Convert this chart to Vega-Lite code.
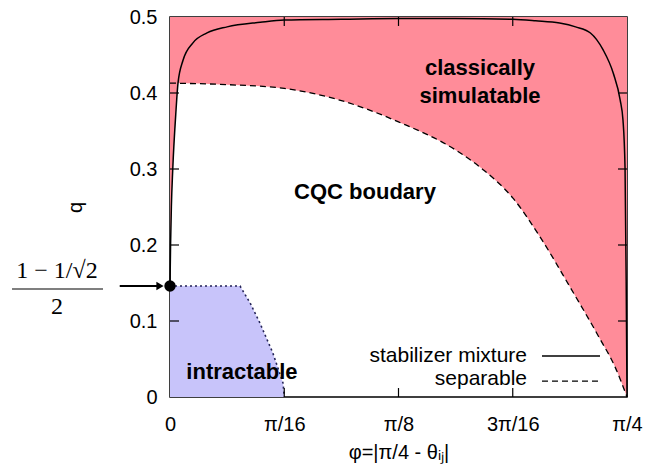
{
  "$schema": "https://vega.github.io/schema/vega-lite/v6.json",
  "width": 457,
  "height": 380,
  "autosize": {"type": "none"},
  "padding": {"left": 170, "top": 17, "right": 26, "bottom": 67},
  "config": {
    "view": {"stroke": "#000000", "strokeWidth": 1.5},
    "font": "Liberation Sans",
    "axis": {"labelFont": "Liberation Sans", "titleFont": "Liberation Sans", "labelFontSize": 20, "titleFontSize": 20, "labelColor": "#000000", "titleColor": "#000000", "titleFontWeight": "normal", "domain": false, "grid": false, "ticks": false}
  },
  "datasets": {
    "solid": [
      {"phi": 0, "q": 0.146}, {"phi": 0.00098, "q": 0.2}, {"phi": 0.00236, "q": 0.25}, {"phi": 0.00471, "q": 0.299},
      {"phi": 0.01041, "q": 0.378}, {"phi": 0.01374, "q": 0.413}, {"phi": 0.02238, "q": 0.443}, {"phi": 0.03947, "q": 0.466},
      {"phi": 0.06362, "q": 0.479}, {"phi": 0.09817, "q": 0.487}, {"phi": 0.15512, "q": 0.493}, {"phi": 0.19635, "q": 0.496},
      {"phi": 0.29452, "q": 0.497}, {"phi": 0.3927, "q": 0.498}, {"phi": 0.49087, "q": 0.498}, {"phi": 0.58905, "q": 0.497},
      {"phi": 0.62832, "q": 0.495}, {"phi": 0.66955, "q": 0.492}, {"phi": 0.69704, "q": 0.487}, {"phi": 0.72257, "q": 0.479},
      {"phi": 0.74417, "q": 0.457}, {"phi": 0.76184, "q": 0.426}, {"phi": 0.77362, "q": 0.391}, {"phi": 0.77853, "q": 0.364},
      {"phi": 0.78206, "q": 0.30}, {"phi": 0.78403, "q": 0.15}, {"phi": 0.7854, "q": 0}
    ],
    "sliver": [
      {"phi": 0, "q": 0.146}, {"phi": 0.00098, "q": 0.2}, {"phi": 0.00236, "q": 0.25}, {"phi": 0.00471, "q": 0.299},
      {"phi": 0.01041, "q": 0.378}, {"phi": 0.01374, "q": 0.413}
    ],
    "separable": [
      {"phi": 0, "q": 0.413}, {"phi": 0.09817, "q": 0.411}, {"phi": 0.19635, "q": 0.406}, {"phi": 0.29452, "q": 0.390},
      {"phi": 0.3927, "q": 0.362}, {"phi": 0.49087, "q": 0.325}, {"phi": 0.53996, "q": 0.298}, {"phi": 0.58905, "q": 0.262},
      {"phi": 0.63814, "q": 0.208}, {"phi": 0.68722, "q": 0.145}, {"phi": 0.73631, "q": 0.080}, {"phi": 0.76577, "q": 0.038},
      {"phi": 0.7854, "q": 0}
    ],
    "intractable": [
      {"phi": 0, "q": 0.146}, {"phi": 0.12036, "q": 0.146}, {"phi": 0.13745, "q": 0.124}, {"phi": 0.15472, "q": 0.097},
      {"phi": 0.17672, "q": 0.058}, {"phi": 0.19439, "q": 0.018}, {"phi": 0.19635, "q": 0}
    ],
    "xticks": [{"phi": 0.19635}, {"phi": 0.3927}, {"phi": 0.58905}],
    "yticks": [{"q": 0.1}, {"q": 0.2}, {"q": 0.3}, {"q": 0.4}],
    "one": [{"n": 1}]
  },
  "encoding": {
    "x": {"type": "quantitative", "scale": {"domain": [0, 0.7854], "nice": false, "zero": false},
          "axis": {"orient": "bottom", "title": "φ=|π/4 - θᵢⱼ|", "values": [0, 0.19635, 0.3927, 0.58905, 0.7854],
                   "labelExpr": "['0','π/16','π/8','3π/16','π/4'][round(datum.value/0.19635)]",
                   "labelPadding": 17, "titlePadding": 8, "labelFlush": false}},
    "y": {"type": "quantitative", "scale": {"domain": [0, 0.5], "nice": false, "zero": false},
          "axis": {"orient": "left", "title": "q", "values": [0, 0.1, 0.2, 0.3, 0.4, 0.5],
                   "labelExpr": "datum.value == 0 ? '0' : format(datum.value, '.1f')",
                   "labelPadding": 13, "titleX": -95, "titleY": 190, "titleAngle": -90, "titleBaseline": "middle", "titleAlign": "center"}}
  },
  "layer": [
    {"data": {"name": "separable"}, "mark": {"type": "area", "color": "#ff8c99", "interpolate": "monotone"},
     "encoding": {"x": {"field": "phi"}, "y": {"field": "q"}, "y2": {"datum": 0.5}}},
    {"data": {"name": "sliver"}, "mark": {"type": "area", "orient": "horizontal", "color": "#ff8c99"},
     "encoding": {"x": {"field": "phi"}, "y": {"field": "q"}}},
    {"data": {"name": "intractable"}, "mark": {"type": "area", "color": "#c8c4fa"},
     "encoding": {"x": {"field": "phi"}, "y": {"field": "q"}}},
    {"data": {"name": "intractable"}, "mark": {"type": "line", "color": "#222255", "strokeWidth": 1.6, "strokeDash": [2, 3]},
     "encoding": {"x": {"field": "phi"}, "y": {"field": "q"}}},
    {"data": {"name": "xticks"}, "mark": {"type": "rule", "color": "#000000", "strokeWidth": 1.2},
     "encoding": {"x": {"field": "phi"}, "y": {"datum": 0}, "y2": {"datum": 0.0118}}},
    {"data": {"name": "xticks"}, "mark": {"type": "rule", "color": "#000000", "strokeWidth": 1.2},
     "encoding": {"x": {"field": "phi"}, "y": {"datum": 0.5}, "y2": {"datum": 0.4882}}},
    {"data": {"name": "yticks"}, "mark": {"type": "rule", "color": "#000000", "strokeWidth": 1.2},
     "encoding": {"y": {"field": "q"}, "x": {"datum": 0}, "x2": {"datum": 0.0155}}},
    {"data": {"name": "yticks"}, "mark": {"type": "rule", "color": "#000000", "strokeWidth": 1.2},
     "encoding": {"y": {"field": "q"}, "x": {"datum": 0.7854}, "x2": {"datum": 0.7699}}},
    {"data": {"name": "separable"}, "mark": {"type": "line", "color": "#000000", "strokeWidth": 1.3, "strokeDash": [6, 4], "interpolate": "monotone"},
     "encoding": {"x": {"field": "phi"}, "y": {"field": "q"}}},
    {"data": {"name": "solid"}, "mark": {"type": "line", "color": "#000000", "strokeWidth": 1.5, "interpolate": "monotone"},
     "encoding": {"x": {"field": "phi"}, "y": {"field": "q"}}},
    {"data": {"values": [{"phi": 0, "q": 0.146}]}, "mark": {"type": "point", "filled": true, "color": "#000000", "opacity": 1, "size": 130},
     "encoding": {"x": {"field": "phi"}, "y": {"field": "q"}}},
    {"data": {"name": "one"}, "mark": {"type": "text", "text": "classically", "fontWeight": "bold", "fontSize": 22, "color": "#000000", "baseline": "middle"},
     "encoding": {"x": {"datum": 0.5328}, "y": {"datum": 0.433}}},
    {"data": {"name": "one"}, "mark": {"type": "text", "text": "simulatable", "fontWeight": "bold", "fontSize": 22, "color": "#000000", "baseline": "middle"},
     "encoding": {"x": {"datum": 0.5328}, "y": {"datum": 0.396}}},
    {"data": {"name": "one"}, "mark": {"type": "text", "text": "CQC boudary", "fontWeight": "bold", "fontSize": 22, "color": "#000000", "baseline": "middle"},
     "encoding": {"x": {"datum": 0.3351}, "y": {"datum": 0.270}}},
    {"data": {"name": "one"}, "mark": {"type": "text", "text": "intractable", "fontWeight": "bold", "fontSize": 22, "color": "#000000", "baseline": "middle"},
     "encoding": {"x": {"datum": 0.1237}, "y": {"datum": 0.033}}},
    {"data": {"name": "one"}, "mark": {"type": "text", "text": "stabilizer mixture", "fontSize": 21, "color": "#000000", "align": "right", "baseline": "middle"},
     "encoding": {"x": {"datum": 0.6136}, "y": {"datum": 0.054}}},
    {"data": {"name": "one"}, "mark": {"type": "text", "text": "separable", "fontSize": 21, "color": "#000000", "align": "right", "baseline": "middle"},
     "encoding": {"x": {"datum": 0.6136}, "y": {"datum": 0.024}}},
    {"data": {"name": "one"}, "mark": {"type": "rule", "color": "#000000", "strokeWidth": 1.5},
     "encoding": {"x": {"datum": 0.6393}, "x2": {"datum": 0.739}, "y": {"datum": 0.054}}},
    {"data": {"name": "one"}, "mark": {"type": "rule", "color": "#000000", "strokeWidth": 1.3, "strokeDash": [6, 4]},
     "encoding": {"x": {"datum": 0.6393}, "x2": {"datum": 0.739}, "y": {"datum": 0.021}}},
    {"data": {"name": "one"}, "mark": {"type": "rule", "color": "#000000", "strokeWidth": 2},
     "encoding": {"x": {"datum": -0.0864}, "x2": {"datum": -0.022}, "y": {"datum": 0.146}}},
    {"data": {"name": "one"}, "mark": {"type": "point", "shape": "triangle-right", "filled": true, "color": "#000000", "opacity": 1, "size": 70},
     "encoding": {"x": {"datum": -0.0172}, "y": {"datum": 0.146}}},
    {"data": {"name": "one"}, "mark": {"type": "text", "text": "1 − 1/√2", "font": "Liberation Serif", "fontSize": 24, "color": "#000000", "baseline": "middle"},
     "encoding": {"x": {"datum": -0.1942}, "y": {"datum": 0.166}}},
    {"data": {"name": "one"}, "mark": {"type": "text", "text": "2", "font": "Liberation Serif", "fontSize": 24, "color": "#000000", "baseline": "middle"},
     "encoding": {"x": {"datum": -0.1942}, "y": {"datum": 0.119}}},
    {"data": {"name": "one"}, "mark": {"type": "rule", "color": "#555555", "strokeWidth": 1.5},
     "encoding": {"x": {"datum": -0.2715}, "x2": {"datum": -0.1151}, "y": {"datum": 0.142}}}
  ]
}
